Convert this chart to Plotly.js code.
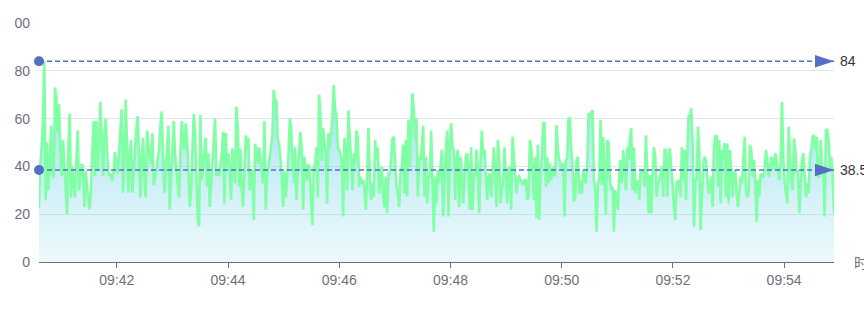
<!DOCTYPE html>
<html><head><meta charset="utf-8">
<script src="https://cdn.plot.ly/plotly-3.0.1.min.js"></script>
<style>html,body{margin:0;padding:0;background:#fff;overflow:hidden}#chart{width:864px;height:314px}</style>
</head><body><div id="chart"></div>
<script>
// Series values, left to right (one reading every ~1.44 s)
const part1 = [22.5,41,48,60,84,26,50,30,40,57, 38,35,73,69,54,66,47,36,51,42, 33,20,48,62,27,40,33,27,42,55, 30,36,41,40,23,38,30,26,22,30, 47,59,36,59,38,49,67,50,36,53, 60,47,38,36,37,34,38,46,41,37, 46,56,64,29,43,68,50,29,45,51, 29,40,50,56,61,42,27,43,52,34, 27,55,49,44,41,54,32,35,38,43, 47,57,63,44,29,38,48,57,22,36, 51,59,45,38,31,27,45,59,52,47, 58,51,39,23,30,46,62,54,38,18];
const part2 = [15,61.5,34,40,48,52,31.5,45.5,23,33, 38,48,60,36,38.5,36,40,45.5,54.5,24.5, 54,40,45.5,37,26,47.5,44,33,65,56.5, 31.5,47.5,30,23,38,53,47,52,30,34, 38.5,17.5,49.5,47,41,48,42.5,40,33,59, 22,36,41,44,48,53,72,66,68,51, 49.5,42.5,36,23,38,27,37,44,60,56.5, 44,33,48,26,38.5,45,54.5,47,22,44, 38,34,41,39,25,15.5,40,41,48,27, 70,61,42.5,56,50,45.5,24.5,54,48,55, 61,74,63.5,62,48,47,45,42.5,19,52, 45.5,30,63.5,51,40,30,45.5,41,55,52];
const part3 = [31.5,35.7,33,34.3,30,21.8,37,56,35.7,26, 33,27.3,51,42.7,48,28.7,35.7,40,27.3,23, 35.7,20.4,37,37,42.7,51.7,52.4,42.7,31.5,28.7, 23,37,40,49,28.7,51,27.3,59.4,40,56.6, 70.6,63.6,51,60,27.3,44,42.7,48,57,27.3, 44,24.5,35.7,35.7,55,33,12.7,35.7,24.5,38.5, 33,40,47,19,35.7,47,55,19,49.7,58, 48,47,26,42.7,47,23,44,38.5,24.5,37, 44,45.5,38.5,21.8,48,21.8,37,35.7,47,38.5, 20.4,42.7,55,44,47,37,26,35.7,37,27.3, 37,48,37,23,51,44,24.5,28.7,34.3,48, 38.5,24.5,37,40,21.8,52.4,44,34.3,28.7,35];
const part4 = [35.7,34.3,33,32.2,34.3,34.3,26,27.3,51,48, 38.5,26,44,18.3,49,17.6,37,44,58,58, 31.5,44,33,41.3,34.3,37,40,35.7,57.3,46.9, 42.7,41.3,38.5,41.3,19,42.7,43.4,60,60,46.9, 40,25.2,27.3,42.7,44,28.7,34.3,28.7,38.5,34.3, 33,40,62.2,61.5,62.9,63.6,34.3,30,12.7,33, 34.3,59.4,32.2,52.4,33,19.7,51,49.7,34.3,30, 31.5,12.7,30,27.3,21.8,37,42.7,33,46.9,40, 30,48,42.7,51.7,56,30,48,28.7,33,34.3, 26,38.5,37,38.5,31.5,53,35.7,20.4,36.4,20.4, 35.7,48,44,27.3,33,34.3,37,40,27.3,46.9, 46.9,27.3,44,47.6,38.5,33,23,17.6,33,34.3];
const part5 = [33,27.3,48,34.3,46.9,26,45.5,61.5,60.8,64.3, 49.7,14.8,34.3,34.3,56.6,46.9,13.4,30,41.3,44, 42.7,35.7,28.7,30,35.7,23,48,52.4,53.1,31.5, 51,24.5,46.9,42.7,49.7,27.3,49.7,24.5,46.9,37, 27.3,37,38.5,28.7,23,28.7,35.7,33,42.7,52.4, 30,27.3,28.7,49,46.9,35.7,42.7,33,16.9,34.3, 27.3,37,35.7,35.7,38.5,46.9,42.7,35.7,38.5,44, 42.7,38.5,45.5,42.7,38.5,34.3,42.7,67,42.7,33, 27.3,24.5,56.6,46.9,33,30,51.7,46.9,37,38.5, 20.4,31.5,42.7,45.5,33,27.3,33,28.7,44,46.9, 52.4,53.1,46.9,52.4,35.7,35.7,51,40,38.5,19, 55.2,55.2,51,38.5,44,35.7,20.4];

const stepMs = 1439.3;
const xTickTimes = ['09:42','09:44','09:46','09:48','09:50','09:52','09:54'];
const yTickVals = [0,20,40,60,80,100];
const yTickText = ['0','20','40','60','80','00'];
const avgValue = 38.5;   // average mark line, as labelled
const xAxisName = '时间';

const values = [].concat(part1, part2, part3, part4, part5);
const t0 = Date.UTC(2024,0,1,9,40,36);
function fmt(ms){ return new Date(ms).toISOString().replace('T',' ').replace('Z',''); }
const times = values.map((v,i)=>fmt(t0 + i*stepMs));
const tEnd = times[times.length-1];
const maxValue = Math.max.apply(null, values);

const lineColor = '#5470c6';
function markLine(v){
  return {
    x:[times[0], tEnd], y:[v, v], type:'scatter', mode:'lines+markers',
    line:{color:lineColor, width:1.3, dash:'5px,3px'},
    marker:{symbol:['circle','arrow'], size:[10,20], angle:[0,90], color:lineColor, opacity:1, line:{width:0}},
    cliponaxis:false, hoverinfo:'skip', showlegend:false
  };
}

const traces = [
  {
    x: times, y: values, type:'scatter', mode:'lines',
    line:{color:'rgb(128,255,165)', width:2.6},
    fill:'tozeroy',
    fillgradient:{type:'vertical', start:0, stop:84,
      colorscale:[[0,'rgba(120,210,235,0.14)'],[1,'rgba(50,190,215,0.55)']]},
    hoverinfo:'skip', showlegend:false
  },
  markLine(maxValue),
  markLine(avgValue)
];

const layout = {
  width:864, height:314,
  margin:{l:39, r:30, t:23, b:52},
  paper_bgcolor:'#fff', plot_bgcolor:'#fff',
  font:{family:'"Liberation Sans", Arial, sans-serif', size:14, color:'#6E7079'},
  xaxis:{
    type:'date', range:[times[0], tEnd],
    tickvals: xTickTimes.map(s=>'2024-01-01 '+s+':00'),
    ticktext: xTickTimes,
    ticks:'outside', ticklen:5, tickcolor:'#6E7079', tickwidth:1,
    showline:true, linecolor:'#6E7079', linewidth:1,
    showgrid:false, zeroline:false, fixedrange:true,
    tickfont:{size:14, color:'#6E7079'}
  },
  yaxis:{
    range:[0,100], tickvals:yTickVals, ticktext:yTickText,
    showgrid:true, gridcolor:'#E0E6F1', gridwidth:1,
    zeroline:false, showline:false, ticks:'', ticklabelstandoff:8,
    tickfont:{size:14, color:'#6E7079'}, fixedrange:true
  },
  annotations:[
    {x:tEnd, y:maxValue, xref:'x', yref:'y', text:String(maxValue), showarrow:false,
     xanchor:'left', yanchor:'middle', xshift:4, font:{size:14, color:'#333'}},
    {x:tEnd, y:avgValue, xref:'x', yref:'y', text:String(avgValue), showarrow:false,
     xanchor:'left', yanchor:'middle', xshift:4, font:{size:14, color:'#333'}},
    {x:1.0226, y:0, xref:'paper', yref:'paper', text:xAxisName, showarrow:false,
     xanchor:'left', yanchor:'middle', font:{family:'"Noto Sans CJK SC", sans-serif', size:14, color:'#6E7079'}}
  ]
};

Plotly.newPlot('chart', traces, layout, {displayModeBar:false, staticPlot:true});
</script>
</body></html>
